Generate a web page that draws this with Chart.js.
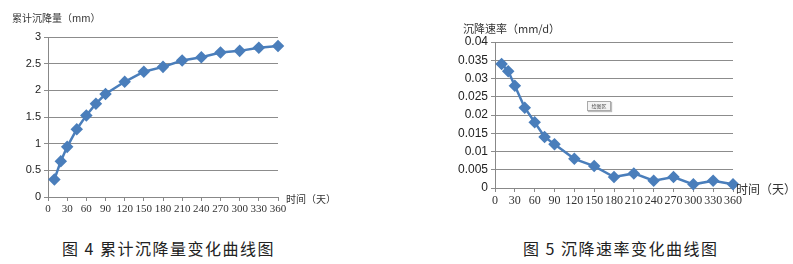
<!DOCTYPE html>
<html>
<head>
<meta charset="utf-8">
<script src="https://cdn.jsdelivr.net/npm/chart.js@4"></script>
<style>
  body { margin: 0; background: #fff; width: 793px; height: 264px; position: relative; overflow: hidden; }
  canvas { position: absolute; }
  .t { position: absolute; font-family: "Noto Sans CJK SC", sans-serif; color: #333; white-space: nowrap; line-height: 1; }
  .cap { position: absolute; font-family: "Noto Sans CJK SC", serif; font-size: 16px; letter-spacing: 1.5px; color: #222; white-space: nowrap; line-height: 1; }
  .tip { position: absolute; left: 587px; top: 101px; width: 22px; height: 8px; border: 1px solid #aaa; background: #f4f4f4; box-shadow: 1px 1px 1px #bbb;
         font-family: "Noto Sans CJK SC", sans-serif; font-size: 5px; line-height: 8px; text-align: center; color: #555; }
</style>
</head>
<body>
<canvas id="c1" width="300" height="222" style="left:0;top:0"></canvas>
<canvas id="c2" width="353" height="222" style="left:440px;top:0"></canvas>

<div class="t" style="left:12px;top:13px;font-size:10px">累计沉降量（mm）</div>
<div class="t" style="left:286px;top:194px;font-size:10px">时间（天）</div>
<div class="t" style="left:463px;top:23px;font-size:11px">沉降速率（mm/d）</div>
<div class="t" style="left:736px;top:183px;font-size:12px">时间（天）</div>
<div class="tip">绘图区</div>

<div class="cap" style="left:62px;top:240px">图 4 累计沉降量变化曲线图</div>
<div class="cap" style="left:523px;top:240px">图 5 沉降速率变化曲线图</div>

<script>
// observation days
var days = [10, 20, 30, 45, 60, 75, 90, 120, 150, 180, 210, 240, 270, 300, 330, 360];
// cumulative settlement (mm)
var settlement = [0.33, 0.67, 0.94, 1.27, 1.53, 1.75, 1.93, 2.16, 2.35, 2.44, 2.56, 2.62, 2.71, 2.74, 2.80, 2.83];
// settlement rate (mm/d)
var rate = [0.034, 0.032, 0.028, 0.022, 0.018, 0.014, 0.012, 0.008, 0.006, 0.003, 0.004, 0.002, 0.003, 0.001, 0.002, 0.001];

// tick labels
var settleTicks = ['0', '0.5', '1', '1.5', '2', '2.5', '3'];
var rateTicks = ['0', '0.005', '0.01', '0.015', '0.02', '0.025', '0.03', '0.035', '0.04'];

var blue = '#4a7ebb';

function points(ys) {
    return days.map(function (d, i) { return { x: d, y: ys[i] }; });
}

function makeChart(id, ys, labels, opt) {
    var ctx = document.getElementById(id).getContext('2d');
    return new Chart(ctx, {
        type: 'line',
        data: {
            datasets: [{
                data: points(ys),
                borderColor: blue,
                backgroundColor: blue,
                borderWidth: 2.5,
                pointStyle: 'rectRot',
                pointRadius: opt.marker,
                pointHoverRadius: opt.marker,
                tension: 0,
                clip: false
            }]
        },
        options: {
            responsive: false,
            animation: false,
            events: [],
            layout: { padding: opt.padding },
            plugins: { legend: { display: false }, tooltip: { enabled: false } },
            scales: {
                x: {
                    type: 'linear',
                    min: 0, max: 360,
                    ticks: { stepSize: 30, color: '#333', padding: 2, maxRotation: 0, autoSkip: false,
                             font: { family: 'Liberation Serif', size: opt.xFont } },
                    grid: { display: true, drawOnChartArea: false, drawTicks: true, tickLength: 4, color: '#888' },
                    border: { color: '#888' },
                    afterFit: function (s) { s.height = opt.xHeight; }
                },
                y: {
                    min: 0, max: opt.yMax,
                    ticks: { stepSize: opt.yStep, color: '#222', padding: 3, autoSkip: false,
                             font: { family: 'Liberation Sans', size: opt.yFont },
                             callback: function (v, i) { return labels[i]; } },
                    grid: { color: '#8c8c8c', tickLength: 4 },
                    border: { color: '#888' },
                    afterFit: function (s) { s.width = opt.yWidth; }
                }
            }
        }
    });
}

makeChart('c1', settlement, settleTicks, {
    padding: { top: 37, right: 22, left: 0, bottom: 0 },
    yMax: 3, yStep: 0.5, yWidth: 48, xHeight: 25,
    xFont: 11, yFont: 11, marker: 4.5
});

makeChart('c2', rate, rateTicks, {
    padding: { top: 42, right: 60, left: 0, bottom: 0 },
    yMax: 0.04, yStep: 0.005, yWidth: 55, xHeight: 34,
    xFont: 12, yFont: 12, marker: 4.5
});
</script>
</body>
</html>
